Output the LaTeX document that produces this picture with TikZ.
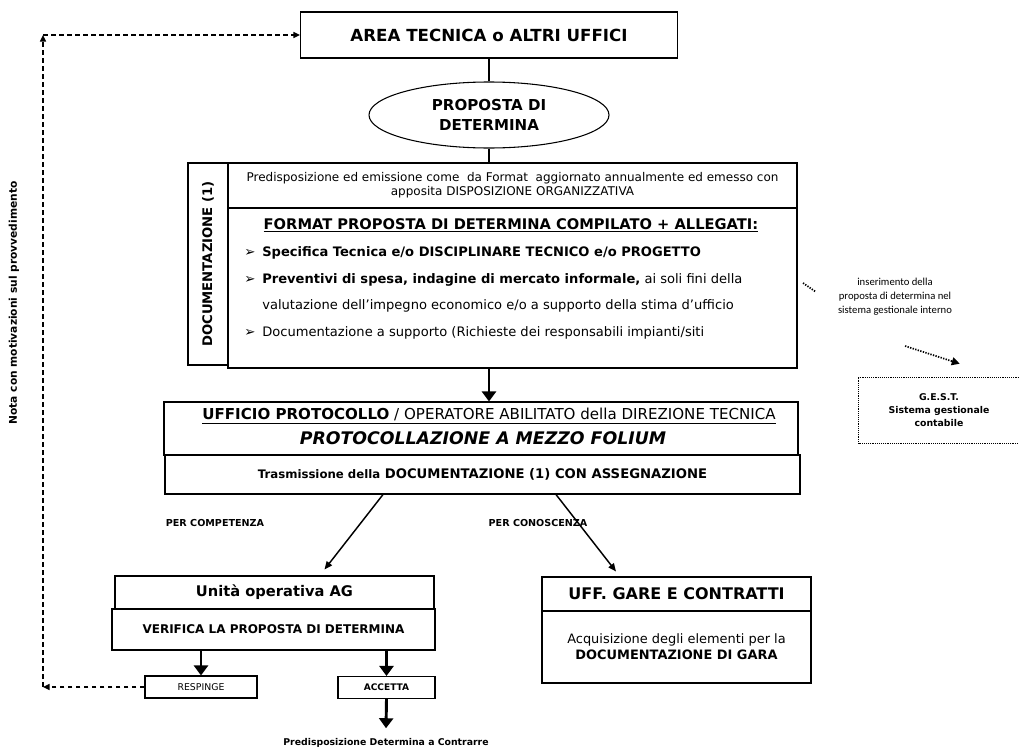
\documentclass[tikz,border=0pt]{standalone}
\usepackage{fontspec}
\setmainfont{DejaVu Sans}
\newfontfamily\calibrifont{Carlito}
\usetikzlibrary{arrows.meta,shapes.geometric}
\newcommand\fsz[2]{\fontsize{#1}{#2}\selectfont}

\begin{document}
\begin{tikzpicture}[x=0.75pt,y=-0.75pt,
  box/.style={draw=black, line width=0.8pt, inner sep=0pt, align=center},
  txt/.style={inner sep=0pt, align=center},
  heavy/.style={line width=2.2pt},
  heavyarr/.style={line width=2.2pt, -{Triangle[length=7.5pt,width=10.5pt]}},
  thinarr/.style={line width=1.1pt, -{Triangle[length=6pt,width=5pt]}},
  dasharr/.style={line width=1.1pt, dash pattern=on 3.5pt off 2.5pt, -{Triangle[length=5pt,width=4.5pt]}},
  dotline/.style={line width=1.3pt, dash pattern=on 1pt off 1pt},
]
\useasboundingbox (0,0) rectangle (1019,749);

% top of the flow
\node[box, minimum width=377*0.75pt, minimum height=46*0.75pt, font=\fsz{12.5}{14}\bfseries] (area) at (489,35) {AREA TECNICA o ALTRI UFFICI};
\node[box, ellipse, minimum width=240*0.75pt, minimum height=66*0.75pt, font=\fsz{11.3}{15}\bfseries] (prop) at (489,115) {PROPOSTA DI\\DETERMINA};

% documentation block
\node[box, minimum width=569*0.75pt, minimum height=45*0.75pt, font=\fsz{9}{10.5}] (doctop) at (512.5,185.5) {Predisposizione ed emissione come\ \ da Format\ \ aggiornato annualmente ed emesso con\\apposita DISPOSIZIONE ORGANIZZATIVA};
\node[box, minimum width=569*0.75pt, minimum height=160*0.75pt] (docbody) at (512.5,288) {};
\node[box, minimum width=40*0.75pt, minimum height=202*0.75pt] (docstrip) at (208,264) {};
\node[txt, rotate=90, font=\fsz{9.9}{11}\bfseries] (doclabel) at (docstrip) {DOCUMENTAZIONE (1)};
\node[txt, font=\fsz{11}{13}\bfseries] (fmt) at (511,225) {\underline{FORMAT PROPOSTA DI DETERMINA COMPILATO + ALLEGATI:}};
\foreach \n/\yy in {b1/253,b2/280,b4/333}
  \node[txt, anchor=west, font=\fsz{10}{12}] (\n) at (244,\yy) {➢};
\node[txt, anchor=west, font=\fsz{9.8}{12}] (l1) at (262,253) {\textbf{Specifica Tecnica e/o DISCIPLINARE TECNICO e/o PROGETTO}};
\node[txt, anchor=west, font=\fsz{9.8}{12}] (l2) at (262,280) {\textbf{Preventivi di spesa, indagine di mercato informale,} ai soli fini della};
\node[txt, anchor=west, font=\fsz{9.8}{12}] (l3) at (262,306) {valutazione dell’impegno economico e/o a supporto della stima d’ufficio};
\node[txt, anchor=west, font=\fsz{9.8}{12}] (l4) at (262,333) {Documentazione a supporto (Richieste dei responsabili impianti/siti};

% protocol
\node[box, minimum width=634*0.75pt, minimum height=53*0.75pt] (proto) at (481,428.5) {};
\node[txt, font=\fsz{11.3}{13}] (protoA) at (489,416) {\underline{\textbf{UFFICIO PROTOCOLLO}\ / OPERATORE ABILITATO della DIREZIONE TECNICA}};
\node[txt, font=\fsz{13}{15}\bfseries\itshape] (protoB) at (483,438) {PROTOCOLLAZIONE A MEZZO FOLIUM};
\node[box, minimum width=635*0.75pt, minimum height=39*0.75pt, font=\fsz{9.9}{11}\bfseries] (trans) at (482.5,474.5) {{\fsz{8.8}{10}Trasmissione della} DOCUMENTAZIONE (1) CON ASSEGNAZIONE};

% lower boxes
\node[box, minimum width=319*0.75pt, minimum height=33*0.75pt, font=\fsz{11}{13}\bfseries] (uo) at (274.5,592.5) {Unità operativa AG};
\node[box, minimum width=323*0.75pt, minimum height=41*0.75pt, font=\fsz{9}{10}\bfseries] (ver) at (273.5,629.5) {VERIFICA LA PROPOSTA DI DETERMINA};
\node[box, minimum width=112*0.75pt, minimum height=22*0.75pt, font=\fsz{7}{9}] (resp) at (201,687) {RESPINGE};
\node[box, minimum width=97*0.75pt, minimum height=22*0.75pt, font=\fsz{6.8}{8}\bfseries] (acc) at (386.5,687.5) {ACCETTA};
\node[txt, font=\fsz{7}{9}\bfseries] (pred) at (386,743) {Predisposizione Determina a Contrarre};
\node[box, minimum width=269*0.75pt, minimum height=34*0.75pt, font=\fsz{12}{14}\bfseries] (gare) at (676.5,594) {UFF. GARE E CONTRATTI};
\node[box, minimum width=269*0.75pt, minimum height=72*0.75pt, font=\fsz{9.7}{12}] (gareb) at (676.5,647) {Acquisizione degli elementi per la\\\textbf{DOCUMENTAZIONE DI GARA}};

% accounting system
\node[txt, minimum width=160*0.75pt, minimum height=65*0.75pt, font=\fsz{7}{9.75}\bfseries] (gest) at (939,410.5) {G.E.S.T.\\Sistema gestionale\\contabile};
\draw[line width=0.7pt, dash pattern=on 0.7pt off 0.7pt] (gest.north east) -- (gest.north west) -- (gest.south west) -- (gest.south east);
\node[txt, font=\calibrifont\fsz{8}{10.5}] (ins) at (895,297) {inserimento della\\proposta di determina nel\\sistema gestionale interno};
\coordinate (d1) at (803,283);
\coordinate (d2) at (816,292);
\coordinate (d3) at (905,346);
\draw[dotline] (d1) -- (d2);
\draw[dotline, -{Triangle[length=6pt,width=6pt]}] (d3) -- ([shift={(101,-14)}]gest.north west);

% connectors
\draw[heavy] (area.south -| prop.north) -- (prop.north);
\draw[heavy] (prop.south) -- (prop.south |- doctop.north);
\draw[heavyarr] (docbody.south -| prop.south) -- (proto.north -| prop.south);
\draw[thinarr] ([shift={(-99.5,0)}]trans.south) -- ([shift={(50,-6)}]uo.north);
\draw[thinarr] ([shift={(73.5,0)}]trans.south) -- ([shift={(-60.5,-5)}]gare.north);
\node[txt, font=\fsz{7.2}{9}\bfseries] (lcomp) at (215,523) {PER COMPETENZA};
\node[txt, font=\fsz{7.2}{9}\bfseries] (lcon) at (538,523) {PER CONOSCENZA};
\draw[heavyarr] (resp.north |- ver.south) -- (resp.north);
\draw[heavyarr] (acc.north |- ver.south) -- (acc.north);
\draw[heavyarr] (acc.south) -- ([shift={(0,-10)}]pred.north);

% feedback loop
\coordinate (fbl) at (43,687);
\coordinate (ftl) at (43,35);
\draw[dasharr] (resp.west) -- (fbl);
\draw[dasharr] (fbl) -- (ftl);
\draw[dasharr] (ftl) -- (area.west);
\node[txt, rotate=90, font=\fsz{8}{10}\bfseries] (nota) at (14,303) {Nota con motivazioni sul provvedimento};
\end{tikzpicture}
\end{document}
